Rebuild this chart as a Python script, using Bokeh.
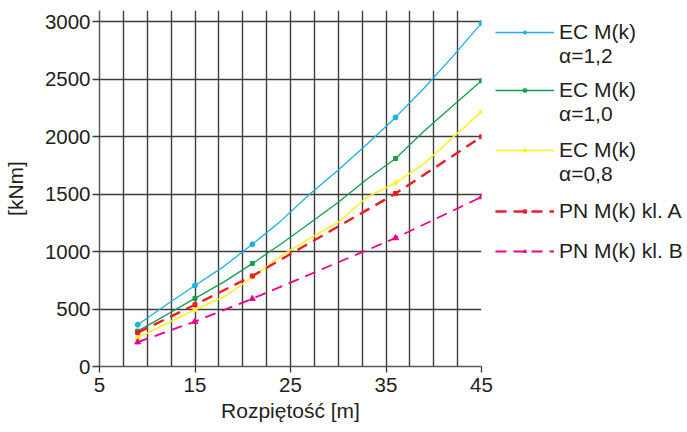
from bokeh.plotting import figure
from bokeh.layouts import row
from bokeh.models import FixedTicker, Legend, LegendItem, Range1d
from bokeh.embed import file_html
from bokeh.resources import INLINE

# Span [m] and design moments [kNm]
span_ec = [9, 12, 15, 18, 21, 24, 27, 30, 33, 36, 39, 42, 45]
ec_a12 = [364, 537, 706, 870, 1064, 1268, 1500, 1712, 1935, 2169, 2425, 2700, 2990]
ec_a10 = [308, 450, 593, 735, 896, 1067, 1248, 1430, 1630, 1811, 2050, 2270, 2488]
ec_a08 = [250, 372, 494, 605, 775, 963, 1116, 1256, 1474, 1599, 1766, 1995, 2218]

span_pn = [9, 15, 21, 36, 45]
pn_kl_a = [294, 538, 788, 1506, 2000]
pn_kl_b = [212, 392, 590, 1119, 1476]

# spans at which markers are shown on the EC curves
marker_span = [9, 15, 21, 36, 45]

x_major_ticks = [5, 15, 25, 35, 45]
x_grid_ticks = [5, 7.5, 10, 12.5, 15, 17.5, 20, 22.5, 25, 27.5, 30, 32.5, 35,
                37.5, 40, 42.5, 45]
y_ticks = [0, 500, 1000, 1500, 2000, 2500, 3000]

FONT = "Liberation Sans"
INK = "#231f20"
GRID = "#3d3d3d"

p = figure(width=495, height=432, output_backend="svg", toolbar_location=None,
           x_range=Range1d(5, 45), y_range=Range1d(0, 3100),
           min_border_left=96, min_border_right=14,
           min_border_top=10, min_border_bottom=66)
p.outline_line_color = None
p.background_fill_color = "white"
p.border_fill_color = "white"

# axes
for ax in (p.xaxis[0], p.yaxis[0]):
    ax.axis_line_color = "#5a5a5a"
    ax.axis_line_width = 1.5
    ax.major_tick_line_color = "#3a3a3a"
    ax.major_tick_line_width = 1.3
    ax.major_tick_in = 0
    ax.minor_tick_line_color = None
    ax.major_label_text_font = FONT
    ax.major_label_text_font_size = "20.5px"
    ax.major_label_text_color = INK
    ax.axis_label_text_font = FONT
    ax.axis_label_text_font_size = "21px"
    ax.axis_label_text_font_style = "normal"
    ax.axis_label_text_color = INK

p.xaxis.ticker = FixedTicker(ticks=x_major_ticks)
p.xaxis.major_tick_out = 6
p.xaxis.major_label_standoff = 5
p.xaxis.axis_label = "Rozpiętość [m]"
p.xaxis.axis_label_standoff = 4

p.yaxis.ticker = FixedTicker(ticks=y_ticks)
p.yaxis.major_tick_out = 7
p.yaxis.major_label_standoff = 2
p.yaxis.axis_label = "[kNm]"
p.yaxis.axis_label_standoff = 15

# grid
p.xgrid.ticker = FixedTicker(ticks=x_grid_ticks)
p.xgrid.grid_line_color = GRID
p.xgrid.grid_line_width = 1.4
p.ygrid.ticker = FixedTicker(ticks=y_ticks[1:])
p.ygrid.grid_line_color = GRID
p.ygrid.grid_line_width = 1.4


def ec_values_at(series, spans):
    lookup = dict(zip(span_ec, series))
    return [lookup[s] for s in spans]


c_blue = "#1cb0e6"
c_green = "#12a04e"
c_yellow = "#fff021"
c_red = "#ed1c24"
c_mag = "#ec008c"

styles = [
    dict(line=dict(line_color=c_blue, line_width=1.3),
         mark=dict(marker="circle", size=5, fill_color=c_blue, line_color=c_blue)),
    dict(line=dict(line_color=c_green, line_width=1.3),
         mark=dict(marker="square", size=4, fill_color=c_green, line_color=c_green)),
    dict(line=dict(line_color=c_yellow, line_width=1.5),
         mark=dict(marker="circle", size=4, fill_color=c_yellow, line_color=c_yellow)),
    dict(line=dict(line_color=c_red, line_width=2.4, line_dash="11 7"),
         mark=dict(marker="square", size=4, fill_color=c_red, line_color=c_red)),
    dict(line=dict(line_color=c_mag, line_width=1.8, line_dash="11 7"),
         mark=dict(marker="triangle", size=6, fill_color=c_mag, line_color=c_mag)),
]

series = [
    (span_ec, ec_a12, marker_span, ec_values_at(ec_a12, marker_span)),
    (span_ec, ec_a10, marker_span, ec_values_at(ec_a10, marker_span)),
    (span_ec, ec_a08, marker_span, ec_values_at(ec_a08, marker_span)),
    (span_pn, pn_kl_a, span_pn, pn_kl_a),
    (span_pn, pn_kl_b, span_pn, pn_kl_b),
]
for (xs, ys, mx, my), st in zip(series, styles):
    p.line(xs, ys, **st["line"])
    p.scatter(mx, my, **st["mark"])

# legend panel to the right of the chart (its frame is aligned with the chart's)
lp = figure(width=192, height=432, output_backend="svg", toolbar_location=None,
            x_axis_location=None, y_axis_location=None,
            x_range=Range1d(0, 1), y_range=Range1d(0, 1),
            min_border_left=0, min_border_right=0,
            min_border_top=10, min_border_bottom=66)
lp.outline_line_color = None
lp.xgrid.visible = False
lp.ygrid.visible = False

nan = float("nan")
samples = []
for st in styles:
    samples.append([lp.line(x=[nan], y=[nan], **st["line"]),
                    lp.scatter(x=[nan], y=[nan], **st["mark"])])
blank = lp.line(x=[nan], y=[nan], line_alpha=0)


def legend_block(rows, loc):
    items = [LegendItem(label=text, renderers=rend) for text, rend in rows]
    lg = Legend(items=items, location=loc)
    lg.border_line_color = None
    lg.background_fill_alpha = 0
    lg.margin = 0
    lg.padding = 0
    lg.spacing = 0
    lg.glyph_width = 59
    lg.glyph_height = 8
    lg.label_height = 21
    lg.label_text_font = FONT
    lg.label_text_font_size = "21px"
    lg.label_text_line_height = 1.0
    lg.label_text_color = INK
    lg.label_standoff = 5
    lg.label_text_baseline = "middle"
    lp.add_layout(lg)


legend_block([("EC M(k)", samples[0]), ("α=1,2", [blank])], (0, 298))
legend_block([("EC M(k)", samples[1]), ("α=1,0", [blank])], (0, 240))
legend_block([("EC M(k)", samples[2]), ("α=0,8", [blank])], (0, 180))
legend_block([("PN M(k) kl. A", samples[3])], (0, 143))
legend_block([("PN M(k) kl. B", samples[4])], (0, 103))

open("out.html", "w").write(file_html(row(p, lp), INLINE))
